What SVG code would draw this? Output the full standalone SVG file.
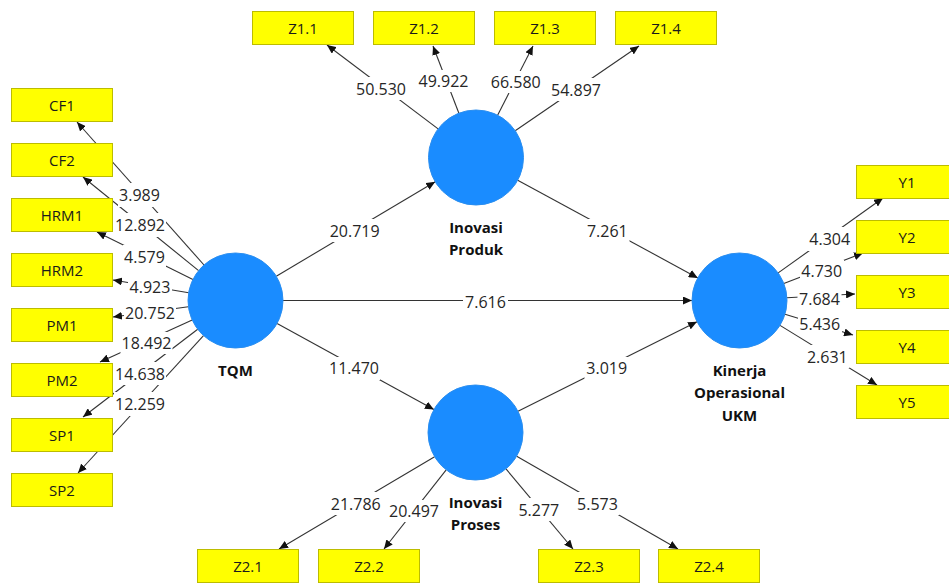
<svg xmlns="http://www.w3.org/2000/svg" width="949" height="584" viewBox="0 0 949 584">
  <style>
    .bg { fill: #ffffff; }
    .lv { fill: #1a8cff; stroke: #2a8ef0; stroke-width: 1; }
    .mv { fill: #ffff00; stroke: #bcbc00; stroke-width: 1; }
    .mt { font-family: "Open Sans", "Noto Sans", sans-serif; font-size: 15px; fill: #1a1a1a; text-anchor: middle; }
    .lt { font-family: "Open Sans", "Noto Sans", sans-serif; font-size: 15px; font-weight: bold; fill: #111111; text-anchor: middle; }
    .edge { stroke: #333333; stroke-width: 1.1; fill: none; marker-end: url(#arr); }
    .wt { fill: #ffffff; }
    .wv { font-family: "Open Sans", "Noto Sans", sans-serif; font-size: 16px; fill: #262626; text-anchor: middle; }
  </style>
  <defs>
    <marker id="arr" markerUnits="userSpaceOnUse" markerWidth="10" markerHeight="8" refX="9" refY="4" orient="auto">
      <path d="M0,0 L9,4 L0,8 Z" fill="#111111"/>
    </marker>
  </defs>

  <rect class="bg" x="0" y="0" width="949" height="584"/>

  <!-- connectors -->
  <g id="connectors">
    <!-- TQM indicators -->
    <line class="edge" x1="204.0" y1="265.0" x2="77" y2="122"/>
    <line class="edge" x1="198.6" y1="270.6" x2="83" y2="177"/>
    <line class="edge" x1="192.9" y1="279.4" x2="97" y2="232"/>
    <line class="edge" x1="188.7" y1="292.7" x2="113" y2="280"/>
    <line class="edge" x1="188.4" y1="306.8" x2="113" y2="317"/>
    <line class="edge" x1="192.2" y1="320.1" x2="100" y2="362"/>
    <line class="edge" x1="197.7" y1="329.3" x2="83" y2="417"/>
    <line class="edge" x1="203.5" y1="335.6" x2="78" y2="473"/>
    <!-- Inovasi Produk indicators -->
    <line class="edge" x1="438.1" y1="128.9" x2="327" y2="45"/>
    <line class="edge" x1="458.9" y1="113.2" x2="433" y2="46"/>
    <line class="edge" x1="497.6" y1="115.2" x2="533" y2="46"/>
    <line class="edge" x1="515.2" y1="130.7" x2="639" y2="46"/>
    <!-- Inovasi Proses indicators -->
    <line class="edge" x1="434.6" y1="456.7" x2="279" y2="549"/>
    <line class="edge" x1="446.2" y1="469.9" x2="384" y2="549"/>
    <line class="edge" x1="506.0" y1="468.9" x2="573" y2="549"/>
    <line class="edge" x1="516.7" y1="456.2" x2="678" y2="549"/>
    <!-- Kinerja indicators -->
    <line class="edge" x1="778.2" y1="272.9" x2="883" y2="198"/>
    <line class="edge" x1="783.8" y1="283.5" x2="863" y2="253"/>
    <line class="edge" x1="786.9" y1="297.8" x2="855" y2="294"/>
    <line class="edge" x1="785.0" y1="314.3" x2="853" y2="335"/>
    <line class="edge" x1="780.0" y1="325.4" x2="877" y2="385"/>
    <!-- structural paths -->
    <line class="edge" x1="276.3" y1="276.2" x2="435.2" y2="181.8"/>
    <line class="edge" x1="517.7" y1="180.2" x2="697.8" y2="277.9"/>
    <line class="edge" x1="283" y1="300.5" x2="692" y2="300.5"/>
    <line class="edge" x1="277.1" y1="323.4" x2="433.9" y2="409.6"/>
    <line class="edge" x1="518.0" y1="411.3" x2="697.0" y2="321.7"/>

    <!-- path weights -->
    <g id="weights">
      <rect class="wt" x="118" y="183" width="43" height="24"/><text class="wv" x="139.5" y="201">3.989</text>
      <rect class="wt" x="114" y="213" width="52" height="24"/><text class="wv" x="140" y="231">12.892</text>
      <rect class="wt" x="123" y="245" width="43" height="23"/><text class="wv" x="144.5" y="262.5">4.579</text>
      <rect class="wt" x="128" y="277" width="44" height="20"/><text class="wv" x="150" y="293">4.923</text>
      <rect class="wt" x="124" y="302" width="52" height="21"/><text class="wv" x="150" y="318.5">20.752</text>
      <rect class="wt" x="120.5" y="332" width="52" height="22"/><text class="wv" x="146.5" y="349">18.492</text>
      <rect class="wt" x="114" y="362" width="52" height="23"/><text class="wv" x="140" y="379.5">14.638</text>
      <rect class="wt" x="114" y="392" width="52" height="24"/><text class="wv" x="140" y="410">12.259</text>

      <rect class="wt" x="355" y="77" width="52" height="23"/><text class="wv" x="381" y="94.5">50.530</text>
      <rect class="wt" x="417.5" y="70" width="52" height="22"/><text class="wv" x="443.5" y="87">49.922</text>
      <rect class="wt" x="490" y="71" width="52" height="22"/><text class="wv" x="515.8" y="88">66.580</text>
      <rect class="wt" x="550" y="78" width="52" height="23"/><text class="wv" x="576" y="95.5">54.897</text>

      <rect class="wt" x="329.5" y="492" width="52" height="23"/><text class="wv" x="355.8" y="509.5">21.786</text>
      <rect class="wt" x="388" y="500" width="52" height="22"/><text class="wv" x="414" y="517">20.497</text>
      <rect class="wt" x="517" y="498" width="44" height="23"/><text class="wv" x="538.8" y="516">5.277</text>
      <rect class="wt" x="575.5" y="492" width="44" height="23"/><text class="wv" x="597.5" y="509.5">5.573</text>

      <rect class="wt" x="808" y="227" width="44" height="24"/><text class="wv" x="829.7" y="245">4.304</text>
      <rect class="wt" x="800" y="260" width="44" height="22"/><text class="wv" x="821.7" y="277">4.730</text>
      <rect class="wt" x="797.5" y="290" width="44" height="18"/><text class="wv" x="819.5" y="305">7.684</text>
      <rect class="wt" x="798" y="313" width="44" height="22"/><text class="wv" x="819.7" y="330">5.436</text>
      <rect class="wt" x="805.5" y="345" width="44" height="23"/><text class="wv" x="827.3" y="362.5">2.631</text>

      <rect class="wt" x="328.5" y="219" width="52" height="23"/><text class="wv" x="354.7" y="236.5">20.719</text>
      <rect class="wt" x="585.5" y="219" width="44" height="23"/><text class="wv" x="607.3" y="236.5">7.261</text>
      <rect class="wt" x="463" y="292" width="45" height="19"/><text class="wv" x="485.5" y="308">7.616</text>
      <rect class="wt" x="328" y="357" width="52" height="23"/><text class="wv" x="354" y="374">11.470</text>
      <rect class="wt" x="584.5" y="357" width="44" height="23"/><text class="wv" x="606.7" y="374">3.019</text>
    </g>
  </g>

  <!-- latent variables -->
  <g id="tqm">
    <circle class="lv" cx="235.5" cy="300.5" r="47.5"/>
    <text class="lt" x="235.5" y="376">TQM</text>
  </g>
  <g id="inovasi-produk">
    <circle class="lv" cx="476" cy="157.5" r="47.5"/>
    <text class="lt" x="476" y="232.5">Inovasi</text>
    <text class="lt" x="476" y="255">Produk</text>
  </g>
  <g id="inovasi-proses">
    <circle class="lv" cx="475.5" cy="432.5" r="47.5"/>
    <text class="lt" x="475.5" y="507.5">Inovasi</text>
    <text class="lt" x="475.5" y="530">Proses</text>
  </g>
  <g id="kinerja">
    <circle class="lv" cx="739.5" cy="300.5" r="47.5"/>
    <text class="lt" x="739.5" y="375.5">Kinerja</text>
    <text class="lt" x="739.5" y="398">Operasional</text>
    <text class="lt" x="739.5" y="420.5">UKM</text>
  </g>

  <!-- TQM indicators -->
  <g id="cf1"><rect class="mv" x="11.5" y="88.5" width="101" height="33"/><text class="mt" x="62" y="110.5">CF1</text></g>
  <g id="cf2"><rect class="mv" x="11.5" y="143.5" width="101" height="33"/><text class="mt" x="62" y="165.5">CF2</text></g>
  <g id="hrm1"><rect class="mv" x="11.5" y="198.5" width="101" height="33"/><text class="mt" x="62" y="220.5">HRM1</text></g>
  <g id="hrm2"><rect class="mv" x="11.5" y="253.5" width="101" height="33"/><text class="mt" x="62" y="275.5">HRM2</text></g>
  <g id="pm1"><rect class="mv" x="11.5" y="308.5" width="101" height="33"/><text class="mt" x="62" y="330.5">PM1</text></g>
  <g id="pm2"><rect class="mv" x="11.5" y="363.5" width="101" height="33"/><text class="mt" x="62" y="385.5">PM2</text></g>
  <g id="sp1"><rect class="mv" x="11.5" y="418.5" width="101" height="33"/><text class="mt" x="62" y="440.5">SP1</text></g>
  <g id="sp2"><rect class="mv" x="11.5" y="473.5" width="101" height="33"/><text class="mt" x="62" y="495.5">SP2</text></g>

  <!-- Inovasi Produk indicators -->
  <g id="z1-1"><rect class="mv" x="252.5" y="11.5" width="101" height="33"/><text class="mt" x="303" y="33.5">Z1.1</text></g>
  <g id="z1-2"><rect class="mv" x="373.5" y="11.5" width="101" height="33"/><text class="mt" x="424" y="33.5">Z1.2</text></g>
  <g id="z1-3"><rect class="mv" x="494.5" y="11.5" width="101" height="33"/><text class="mt" x="545" y="33.5">Z1.3</text></g>
  <g id="z1-4"><rect class="mv" x="615.5" y="11.5" width="101" height="33"/><text class="mt" x="666" y="33.5">Z1.4</text></g>

  <!-- Inovasi Proses indicators -->
  <g id="z2-1"><rect class="mv" x="197.5" y="549.5" width="101" height="33"/><text class="mt" x="248" y="571.5">Z2.1</text></g>
  <g id="z2-2"><rect class="mv" x="318.5" y="549.5" width="101" height="33"/><text class="mt" x="369" y="571.5">Z2.2</text></g>
  <g id="z2-3"><rect class="mv" x="538.5" y="549.5" width="101" height="33"/><text class="mt" x="589" y="571.5">Z2.3</text></g>
  <g id="z2-4"><rect class="mv" x="658.5" y="549.5" width="101" height="33"/><text class="mt" x="709" y="571.5">Z2.4</text></g>

  <!-- Kinerja indicators -->
  <g id="y1"><rect class="mv" x="856.5" y="165.5" width="101" height="33"/><text class="mt" x="907" y="187.5">Y1</text></g>
  <g id="y2"><rect class="mv" x="856.5" y="220.5" width="101" height="33"/><text class="mt" x="907" y="242.5">Y2</text></g>
  <g id="y3"><rect class="mv" x="856.5" y="275.5" width="101" height="33"/><text class="mt" x="907" y="297.5">Y3</text></g>
  <g id="y4"><rect class="mv" x="856.5" y="330.5" width="101" height="33"/><text class="mt" x="907" y="352.5">Y4</text></g>
  <g id="y5"><rect class="mv" x="856.5" y="385.5" width="101" height="33"/><text class="mt" x="907" y="407.5">Y5</text></g>
</svg>
